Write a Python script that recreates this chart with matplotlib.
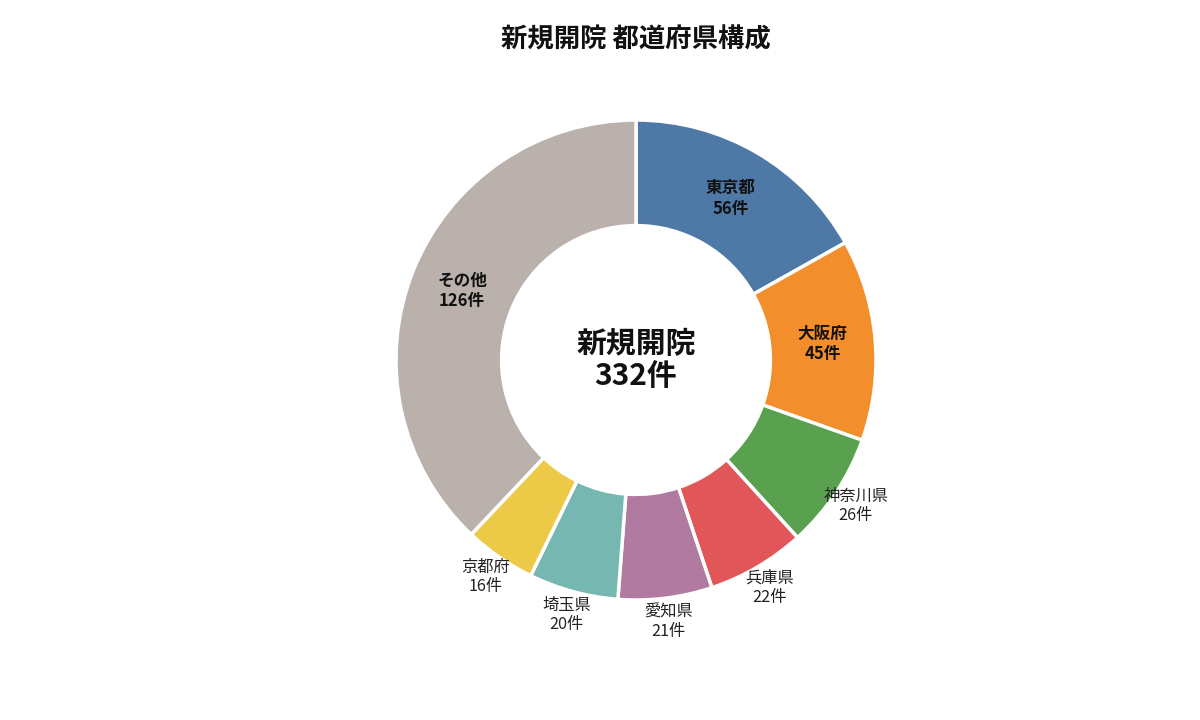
import matplotlib
matplotlib.use("Agg")
import matplotlib.pyplot as plt
import numpy as np

plt.rcParams['font.family'] = ['Noto Sans CJK JP', 'DejaVu Sans']

prefectures = ["東京都", "大阪府", "神奈川県", "兵庫県", "愛知県", "埼玉県", "京都府", "その他"]
counts = [56, 45, 26, 22, 21, 20, 16, 126]
colors = ["#4e79a7", "#f28e2b", "#59a14f", "#e15759", "#b07aa1", "#76b7b2", "#edc948", "#bab0ac"]
inside = [True, True, False, False, False, False, False, True]

title = "新規開院 都道府県構成"
center_text = "新規開院\n332件"

fig = plt.figure(figsize=(12, 7.2), dpi=100)
ax = fig.add_axes([0, 0, 1, 1])

wedges, _ = ax.pie(counts, colors=colors, startangle=90, counterclock=False,
                   radius=1.0,
                   wedgeprops=dict(width=0.44, edgecolor="white", linewidth=2.5))

for w, name, n, ins in zip(wedges, prefectures, counts, inside):
    ang = np.deg2rad((w.theta1 + w.theta2) / 2)
    label = f"{name}\n{n}件"
    if ins:
        r = 0.78
        ax.text(r * np.cos(ang), r * np.sin(ang), label, ha="center", va="center",
                fontsize=12, fontweight="bold", linespacing=1.15, color="#111111")
    else:
        r = 1.1
        ax.text(r * np.cos(ang), r * np.sin(ang), label, ha="center", va="center",
                fontsize=11.7, linespacing=1.15, color="#222222")

ax.text(0, 0, center_text, ha="center", va="center", fontsize=21.5,
        fontweight="bold", linespacing=1.1, color="#111111")
ax.text(0, 1.335, title, ha="center", va="center", fontsize=19,
        fontweight="bold", color="#111111")

ax.set_xlim(-636 / 240, (1200 - 636) / 240)
ax.set_ylim(-1.5, 1.5)
ax.set_aspect("equal", adjustable="box")
ax.axis("off")

fig.savefig("out.png", dpi=100, facecolor="white")
